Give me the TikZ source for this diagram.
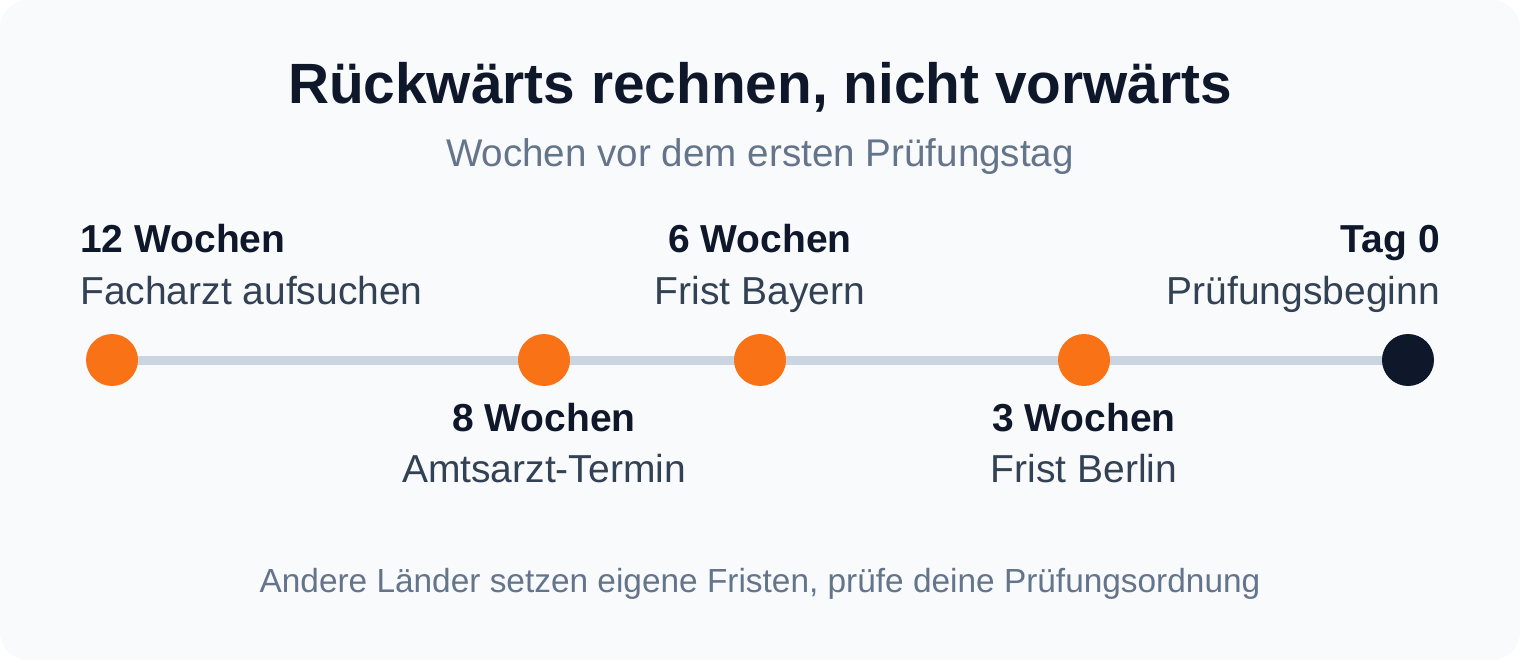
\documentclass[tikz,border=0pt]{standalone}
\usepackage{fontspec}
\setmainfont{Liberation Sans}
\usetikzlibrary{positioning}
\definecolor{bgGray}{HTML}{F8FAFC}
\definecolor{lineGray}{HTML}{CBD5E1}
\definecolor{dotOrange}{HTML}{F97316}
\definecolor{darkNavy}{HTML}{0F172A}
\definecolor{textSlate}{HTML}{334155}
\definecolor{mutedSlate}{HTML}{64748B}
\tikzset{
  milestone/.style={circle,fill=dotOrange,minimum size=52pt,inner sep=0pt},
  weeks/.style={inner sep=0pt,text=darkNavy,font=\fontsize{39}{47}\selectfont\bfseries},
  task/.style={inner sep=0pt,text=textSlate,font=\fontsize{39}{47}\selectfont},
}

\begin{document}
\begin{tikzpicture}[x=1pt,y=-1pt]
        \useasboundingbox (0,0) rectangle (1520,660);
        \fill[bgGray,rounded corners=28pt] (0,0) rectangle (1520,660);

        \node[anchor=base,inner sep=0pt,text=darkNavy,font=\fontsize{56.8}{66}\selectfont\bfseries]
            (title) at (760,104) {Rückwärts rechnen, nicht vorwärts};
        \node[anchor=base,inner sep=0pt,text=mutedSlate,font=\fontsize{38.6}{46}\selectfont]
            (subtitle) at (760,167) {Wochen vor dem ersten Prüfungstag};

        \coordinate (c12) at ( 112,360);
        \coordinate (c8)  at ( 544,360);
        \coordinate (c6)  at ( 760,360);
        \coordinate (c3)  at (1084,360);
        \coordinate (c0)  at (1408,360);

        \draw[lineGray,line width=9pt] (c12) -- (c0);

        \node[milestone] (w12) at (c12) {};
        \node[milestone] (w8)  at (c8)  {};
        \node[milestone] (w6)  at (c6)  {};
        \node[milestone] (w3)  at (c3)  {};
        \node[milestone,fill=darkNavy] (w0) at (c0) {};

        % above the line
        \node[weeks,anchor=base west] (l12) at (  80,253) {12 Wochen};
        \node[task, anchor=base west] (t12) at (  80,304) {Facharzt aufsuchen};
        \node[weeks,anchor=base]      (l6)  at ( 760,253) {6 Wochen};
        \node[task, anchor=base]      (t6)  at ( 760,304) {Frist Bayern};
        \node[weeks,anchor=base east] (l0)  at (1440,253) {Tag 0};
        \node[task, anchor=base east] (t0)  at (1440,304) {Prüfungsbeginn};

        % below the line
        \node[weeks,anchor=base] (l8) at ( 544,431) {8 Wochen};
        \node[task, anchor=base] (t8) at ( 544,482) {Amtsarzt-Termin};
        \node[weeks,anchor=base] (l3) at (1084,431) {3 Wochen};
        \node[task, anchor=base] (t3) at (1084,482) {Frist Berlin};

        \node[anchor=base,inner sep=0pt,text=mutedSlate,font=\fontsize{33.4}{40}\selectfont]
            (note) at (760,592) {Andere Länder setzen eigene Fristen, prüfe deine Prüfungsordnung};
\end{tikzpicture}
\end{document}
